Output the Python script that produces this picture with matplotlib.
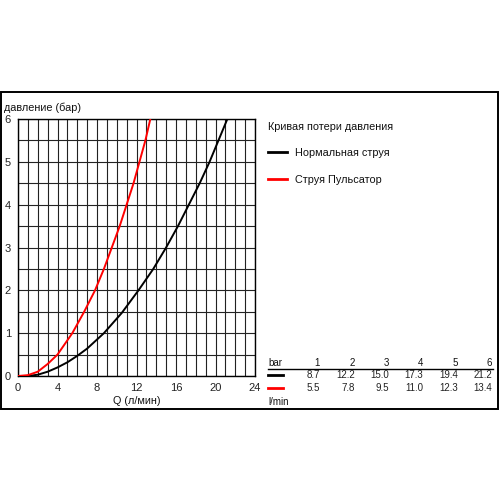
import matplotlib
matplotlib.use("Agg")
import matplotlib.pyplot as plt
from matplotlib.patches import Rectangle
from matplotlib.lines import Line2D

plt.rcParams['font.family'] = ['Liberation Sans', 'DejaVu Sans']

normal_q = [0.0, 1.0, 2.0, 3.0, 4.0, 5.0, 6.0, 7.0, 8.7, 10.5, 12.2, 13.7, 15.0, 16.2, 17.3, 18.4, 19.4, 20.3, 21.2]
normal_p = [0.0, 0.0, 0.03, 0.1, 0.2, 0.32, 0.47, 0.64, 1.0, 1.47, 2.0, 2.5, 3.0, 3.5, 4.0, 4.5, 5.0, 5.5, 6.0]
puls_q = [0.0, 1.0, 2.0, 3.0, 4.0, 5.5, 6.7, 7.8, 8.7, 9.5, 10.3, 11.0, 11.7, 12.3, 12.9, 13.4]
puls_p = [0.0, 0.02, 0.1, 0.28, 0.5, 1.0, 1.5, 2.0, 2.5, 3.0, 3.5, 4.0, 4.5, 5.0, 5.5, 6.0]

table_bar = ["1", "2", "3", "4", "5", "6"]
table_normal = ["8.7", "12.2", "15.0", "17.3", "19.4", "21.2"]
table_puls = ["5.5", "7.8", "9.5", "11.0", "12.3", "13.4"]

x_ticks = [0, 4, 8, 12, 16, 20, 24]
y_ticks = [0, 1, 2, 3, 4, 5, 6]

W, H = 500, 500
fig = plt.figure(figsize=(5, 5), dpi=100)
fig.patch.set_facecolor('white')

def fx(px):
    return px / W

def fy(py):
    return 1 - py / H

# outer border
fig.patches.append(Rectangle((fx(1), fy(408.5)), fx(498) - fx(1), fy(92) - fy(408.5),
                             transform=fig.transFigure, fill=False, edgecolor='black', linewidth=1.4))

ax = fig.add_axes([fx(18), fy(376), fx(255) - fx(18), fy(119) - fy(376)])
ax.set_xlim(0, 24)
ax.set_ylim(0, 6)
for v in range(0, 25):
    ax.axvline(v, color='#222222', linewidth=0.8, zorder=1)
for k in range(0, 13):
    ax.axhline(k * 0.5, color='#222222', linewidth=0.8, zorder=1)

ax.plot(normal_q, normal_p, color='black', linewidth=1.4, zorder=3)
ax.plot(puls_q, puls_p, color='#ff0000', linewidth=1.4, zorder=3)

ax.set_xticks(x_ticks)
ax.set_yticks(y_ticks)
ax.tick_params(length=0, labelsize=8, colors='#222222')
ax.tick_params(axis='x', pad=5)
ax.tick_params(axis='y', pad=5)
for s in ax.spines.values():
    s.set_linewidth(1.0)
    s.set_color('black')

fs = 7.8
fig.text(fx(4), fy(108), "давление (бар)", fontsize=fs, ha='left', va='center', color='#111111')
fig.text(fx(137), fy(401), "Q (л/мин)", fontsize=fs, ha='center', va='center', color='#111111')

# legend
fig.text(fx(268), fy(127), "Кривая потери давления", fontsize=fs, ha='left', va='center', color='#111111')
fig.lines.append(Line2D([fx(268), fx(287)], [fy(152), fy(152)], transform=fig.transFigure, color='black', linewidth=2))
fig.text(fx(295), fy(153), "Нормальная струя", fontsize=fs, ha='left', va='center', color='#111111')
fig.lines.append(Line2D([fx(268), fx(287)], [fy(179), fy(179)], transform=fig.transFigure, color='#ff0000', linewidth=2))
fig.text(fx(295), fy(180), "Струя Пульсатор", fontsize=fs, ha='left', va='center', color='#111111')

# table
tfs = 7
col_x = [320, 355, 389, 423, 458, 492]
fig.text(fx(268), fy(363), "bar", fontsize=tfs, ha='left', va='center', color='#111111')
for cx, t in zip(col_x, table_bar):
    fig.text(fx(cx), fy(363), t, fontsize=tfs, ha='right', va='center', color='#111111')
fig.lines.append(Line2D([fx(268), fx(493)], [fy(368.5), fy(368.5)], transform=fig.transFigure, color='black', linewidth=1.0))
fig.lines.append(Line2D([fx(268), fx(283)], [fy(375), fy(375)], transform=fig.transFigure, color='black', linewidth=2))
for cx, t in zip(col_x, table_normal):
    fig.text(fx(cx), fy(375), t, fontsize=tfs, ha='right', va='center', color='#222222')
fig.lines.append(Line2D([fx(268), fx(283)], [fy(388), fy(388)], transform=fig.transFigure, color='#ff0000', linewidth=2))
for cx, t in zip(col_x, table_puls):
    fig.text(fx(cx), fy(388), t, fontsize=tfs, ha='right', va='center', color='#222222')
fig.text(fx(268), fy(402), "l/min", fontsize=tfs, ha='left', va='center', color='#111111')

fig.savefig("out.png", dpi=100, facecolor='white')
